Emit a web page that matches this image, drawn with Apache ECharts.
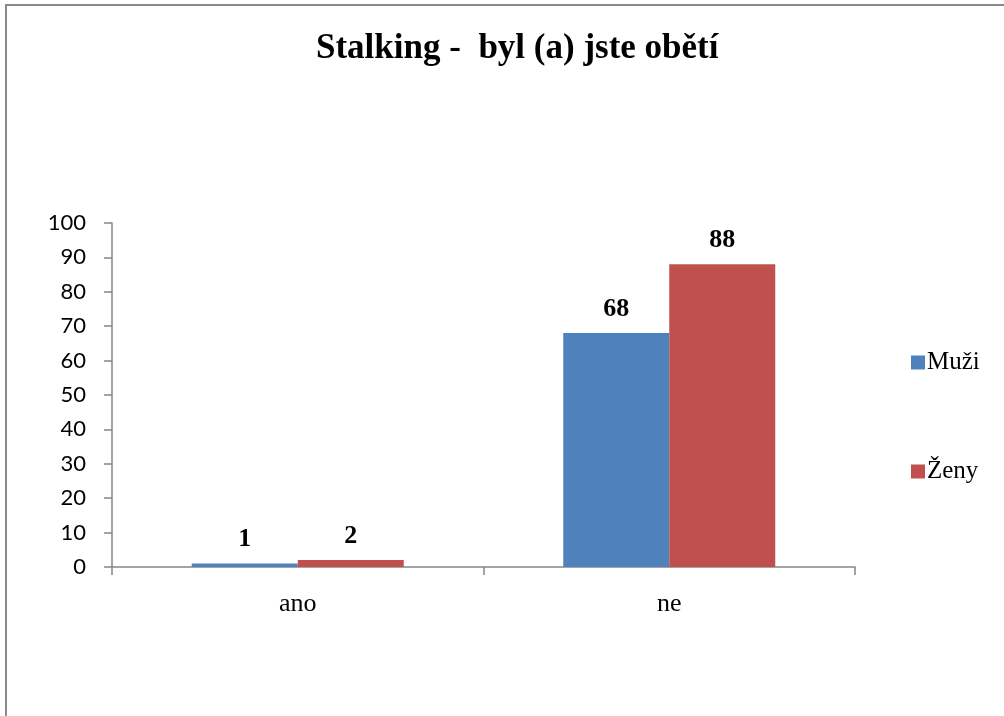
<!DOCTYPE html>
<html>
<head>
<meta charset="utf-8">
<script src="https://cdn.jsdelivr.net/npm/echarts@6/dist/echarts.min.js"></script>
<style>
  html, body { margin: 0; padding: 0; background: #fff; }
  #chart { width: 1004px; height: 716px; }
</style>
</head>
<body>
<div id="chart"></div>
<script>
const titleText = 'Stalking -  byl (a) jste obětí'
const categories = ['ano', 'ne']
const muzi = [1, 68]
const zeny = [2, 88]
const seriesNames = ['Muži', 'Ženy']

const serif = '"Liberation Serif", "Times New Roman", serif'
const axisGray = '#878787'

const chart = echarts.init(document.getElementById('chart'))

const labelStyle = {
    show: true,
    position: 'top',
    distance: 11,
    fontFamily: serif,
    fontWeight: 'bold',
    fontSize: 26,
    color: '#000'
}

const option = {
    animation: false,
    backgroundColor: '#fff',
    graphic: [{
        type: 'rect',
        shape: {x: 6, y: 5, width: 1200, height: 1000},
        style: {fill: 'none', stroke: '#8a8a8a', lineWidth: 2}
    }],
    title: {
        text: titleText,
        left: 311,
        top: 26,
        textStyle: {
            fontFamily: serif,
            fontWeight: 'bold',
            fontSize: 35,
            color: '#000'
        }
    },
    legend: {
        orient: 'vertical',
        left: 906,
        top: 345,
        itemWidth: 14,
        itemHeight: 14,
        itemGap: 84,
        icon: 'rect',
        textStyle: {fontFamily: serif, fontSize: 25, color: '#000', padding: [0, 0, 0, -3]},
        data: seriesNames
    },
    grid: {
        left: 112,
        right: 149,
        top: 223,
        bottom: 149,
        containLabel: false
    },
    xAxis: {
        type: 'category',
        data: categories,
        axisLine: {lineStyle: {color: axisGray, width: 1.5}},
        axisTick: {show: true, length: 8, lineStyle: {color: axisGray, width: 1.5}},
        axisLabel: {
            margin: 24,
            fontFamily: serif,
            fontSize: 26,
            color: '#000'
        }
    },
    yAxis: {
        type: 'value',
        min: 0,
        max: 100,
        interval: 10,
        splitLine: {show: false},
        axisLine: {show: true, lineStyle: {color: axisGray, width: 1.5}},
        axisTick: {show: true, length: 8, lineStyle: {color: axisGray, width: 1.5}},
        axisLabel: {
            margin: 26,
            fontFamily: 'Lato, "Liberation Sans", sans-serif',
            fontSize: 22,
            color: '#000'
        }
    },
    series: [
        {
            name: seriesNames[0],
            type: 'bar',
            data: muzi,
            barWidth: 106,
            barGap: '0%',
            itemStyle: {color: '#4F81BD'},
            label: labelStyle
        },
        {
            name: seriesNames[1],
            type: 'bar',
            data: zeny,
            barWidth: 106,
            barGap: '0%',
            itemStyle: {color: '#C0504D'},
            label: labelStyle
        }
    ]
}

chart.setOption(option)
</script>
</body>
</html>
